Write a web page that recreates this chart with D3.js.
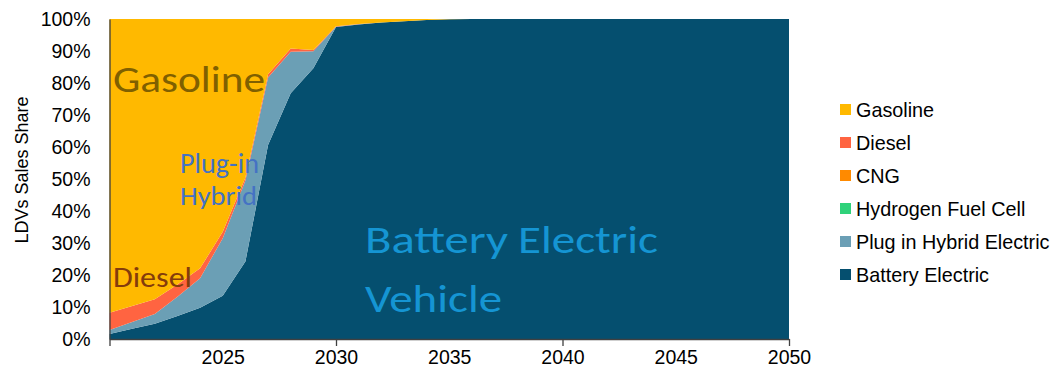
<!DOCTYPE html>
<html>
<head>
<meta charset="utf-8">
<script src="https://cdn.jsdelivr.net/npm/d3@7"></script>
<style>
  html, body { margin: 0; padding: 0; background: #fff; }
  svg { display: block; }
</style>
</head>
<body>
<svg id="chart" width="1055" height="375"></svg>
<script>
// ---- Data (share of LDV sales, %) ----
const years = [2020,2021,2022,2023,2024,2025,2026,2027,2028,2029,2030,2031,2032,2033,2034,2035,
               2036,2037,2038,2039,2040,2041,2042,2043,2044,2045,2046,2047,2048,2049,2050];
const batteryElectric = [1.6,3.2,4.8,7.2,9.8,13.5,24.2,60.6,76.8,84.6,97.5,98.3,98.9,99.3,99.7,99.9,
                         100,100,100,100,100,100,100,100,100,100,100,100,100,100,100];
const plugInHybrid   = [1.2,2.1,3.0,6.0,9.2,18.0,25.3,21.1,13.0,5.3,0.1,0.05,0,0,0,0,
                         0,0,0,0,0,0,0,0,0,0,0,0,0,0,0];
const hydrogenFuelCell = [0,0,0,0,0,0,0,0,0,0,0,0,0,0,0,0,0,0,0,0,0,0,0,0,0,0,0,0,0,0,0];
const cng              = [0,0,0,0,0,0,0,0,0,0,0,0,0,0,0,0,0,0,0,0,0,0,0,0,0,0,0,0,0,0,0];
const diesel   = [5.4,5.0,4.6,3.8,3.1,2.0,1.0,1.0,1.0,0.4,0.1,0.05,0,0,0,0,
                  0,0,0,0,0,0,0,0,0,0,0,0,0,0,0];
const gasoline = [91.8,89.7,87.6,83.0,77.9,66.5,49.5,17.3,9.2,9.7,2.3,1.6,1.1,0.7,0.3,0.1,
                  0,0,0,0,0,0,0,0,0,0,0,0,0,0,0];

const seriesNames = ["Battery Electric","Plug in Hybrid Electric","Hydrogen Fuel Cell","CNG","Diesel","Gasoline"];
const seriesValues = [batteryElectric, plugInHybrid, hydrogenFuelCell, cng, diesel, gasoline];
const seriesColors = ["#054f6f","#6b9fb5","#2fd27a","#ff8a00","#ff6441","#ffb900"];
const legendOrder = ["Gasoline","Diesel","CNG","Hydrogen Fuel Cell","Plug in Hybrid Electric","Battery Electric"];

const yTicks = [0,10,20,30,40,50,60,70,80,90,100];
const xMajorTicks = [2020,2030,2040,2050];
const xLabelTicks = [2025,2030,2035,2040,2045,2050];

// ---- Build table ----
const table = years.map((y, i) => {
  const row = { year: y };
  seriesNames.forEach((n, k) => row[n] = seriesValues[k][i]);
  return row;
});

const svg = d3.select("#chart");
const x = d3.scaleLinear().domain([2020, 2050]).range([109.5, 789]);
const y = d3.scaleLinear().domain([0, 100]).range([339, 19]);
const color = d3.scaleOrdinal().domain(seriesNames).range(seriesColors);

const stack = d3.stack().keys(seriesNames);
const layers = stack(table);

const area = d3.area()
  .x(d => x(d.data.year))
  .y0(d => y(d[0]))
  .y1(d => y(d[1]))
  .curve(d3.curveLinear);

svg.append("g").selectAll("path")
  .data(layers)
  .join("path")
  .attr("d", area)
  .attr("fill", d => color(d.key));

// ---- Axes ----
const axisFont = "'Liberation Sans', Arial, sans-serif";

const yAxis = svg.append("g")
  .attr("transform", `translate(${x(2020)},0)`)
  .call(d3.axisLeft(y).tickValues(yTicks).tickSize(0).tickSizeOuter(0).tickPadding(19)
        .tickFormat(d => d + "%"));
yAxis.select(".domain").attr("stroke", "#404040").attr("stroke-width", 1.3);
yAxis.selectAll("text").attr("font-family", axisFont).attr("font-size", 19.5).attr("fill", "#000");

const xAxis = svg.append("g")
  .attr("transform", `translate(0,${y(0)})`)
  .call(d3.axisBottom(x).tickValues(xMajorTicks).tickSize(7).tickSizeOuter(0).tickFormat(""));
xAxis.select(".domain").attr("stroke", "#404040").attr("stroke-width", 1.3);
xAxis.selectAll(".tick line").attr("stroke", "#404040").attr("stroke-width", 1.3);

const xLabels = svg.append("g")
  .attr("transform", `translate(0,${y(0)})`)
  .call(d3.axisBottom(x).tickValues(xLabelTicks).tickSize(0).tickPadding(11).tickFormat(d3.format("d")));
xLabels.select(".domain").remove();
xLabels.selectAll("text").attr("font-family", axisFont).attr("font-size", 19.5).attr("fill", "#000");

// y-axis title
svg.append("text")
  .attr("transform", `translate(28,${170}) rotate(-90)`)
  .attr("text-anchor", "middle")
  .attr("font-family", axisFont)
  .attr("font-size", 18)
  .attr("fill", "#000")
  .text("LDVs Sales Share");

// ---- Legend ----
const legend = svg.append("g");
legendOrder.forEach((name, i) => {
  const cy = 109.5 + i * 33;
  legend.append("rect")
    .attr("x", 840).attr("y", cy - 5.5).attr("width", 11).attr("height", 11)
    .attr("fill", color(name));
  legend.append("text")
    .attr("x", 856).attr("y", cy)
    .attr("dy", "0.36em")
    .attr("font-family", axisFont).attr("font-size", 19.8).attr("fill", "#000")
    .text(name);
});

// ---- Annotations ----
const annFont = "Carlito, Calibri, Lato, sans-serif";
function ann(txt, xx, yy, size, len, fill) {
  svg.append("text")
    .attr("x", xx).attr("y", yy)
    .attr("font-family", annFont).attr("font-size", size)
    .attr("fill", fill)
    .attr("textLength", len).attr("lengthAdjust", "spacingAndGlyphs")
    .text(txt);
}
ann("Gasoline", 113, 91.5, 37, 152, "#7f6000");
ann("Diesel", 113, 286.7, 28, 79, "#843c0c");
ann("Plug-in", 180, 173.3, 28, 79, "#4472c4");
ann("Hybrid", 180, 205, 27, 77, "#4472c4");
ann("Battery", 365, 253.3, 39, 143, "#1595d3");
ann("Electric", 518, 253.3, 39, 140, "#1595d3");
ann("Vehicle", 365, 311.7, 39, 137, "#1595d3");
</script>
</body>
</html>
